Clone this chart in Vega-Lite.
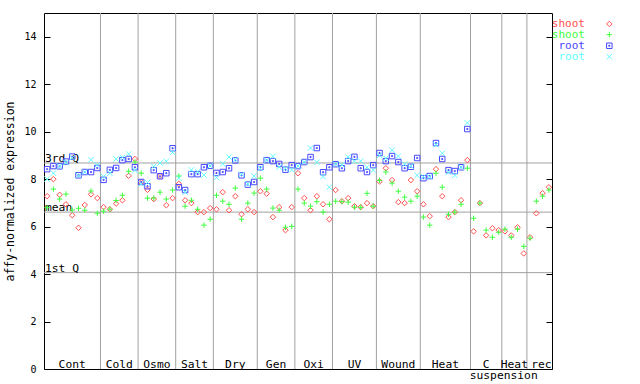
{
  "$schema": "https://vega.github.io/schema/vega-lite/v6.json",
  "autosize": "none",
  "width": 508,
  "height": 356,
  "padding": {"left": 44, "top": 13, "right": 88, "bottom": 15},
  "background": "white",
  "config": {
    "font": "DejaVu Sans Mono",
    "view": {"stroke": "black", "strokeWidth": 1},
    "axis": {"grid": false, "labelFont": "DejaVu Sans Mono", "titleFont": "DejaVu Sans Mono"},
    "text": {"font": "DejaVu Sans Mono", "fontSize": 11.3, "color": "black"}
  },
  "datasets": {
    "expr": [
      {"s":0,"r":7.28,"g":6.8,"b":8.42,"c":8.0},
      {"s":1,"r":8.0,"g":7.58,"b":8.55,"c":8.25},
      {"s":2,"r":7.34,"g":7.16,"b":8.54,"c":8.55},
      {"s":3,"r":6.94,"g":7.37,"b":8.74,"c":8.7},
      {"s":4,"r":6.48,"g":6.7,"b":8.95,"c":8.9},
      {"s":5,"r":5.95,"g":6.77,"b":8.16,"c":8.15},
      {"s":6,"r":6.91,"g":6.69,"b":8.3,"c":8.3},
      {"s":7,"r":7.36,"g":7.5,"b":8.3,"c":8.82},
      {"s":8,"r":7.2,"g":6.56,"b":8.47,"c":8.6},
      {"s":9,"r":6.82,"g":6.65,"b":7.97,"c":8.11},
      {"s":10,"r":6.73,"g":6.73,"b":8.39,"c":8.25},
      {"s":11,"r":6.97,"g":7.1,"b":8.47,"c":8.85},
      {"s":12,"r":7.11,"g":7.32,"b":8.8,"c":8.92},
      {"s":13,"r":8.14,"g":8.33,"b":8.85,"c":9.06},
      {"s":14,"r":8.85,"g":8.72,"b":8.5,"c":8.37},
      {"s":15,"r":7.87,"g":8.25,"b":7.88,"c":7.8},
      {"s":16,"r":7.55,"g":7.2,"b":7.7,"c":7.86},
      {"s":17,"r":7.16,"g":7.2,"b":8.38,"c":8.54},
      {"s":18,"r":8.13,"g":7.45,"b":8.12,"c":8.68},
      {"s":19,"r":6.9,"g":7.16,"b":8.25,"c":8.75},
      {"s":20,"r":7.2,"g":7.54,"b":9.3,"c":9.13},
      {"s":21,"r":7.8,"g":8.13,"b":7.66,"c":8.04},
      {"s":22,"r":7.11,"g":6.86,"b":7.54,"c":7.45},
      {"s":23,"r":6.99,"g":7.11,"b":8.21,"c":8.39},
      {"s":24,"r":6.61,"g":6.73,"b":8.21,"c":8.31},
      {"s":25,"r":6.61,"g":6.06,"b":8.5,"c":8.17},
      {"s":26,"r":6.78,"g":6.31,"b":8.56,"c":8.56},
      {"s":27,"r":6.73,"g":7.32,"b":8.26,"c":8.07},
      {"s":28,"r":7.45,"g":7.07,"b":8.3,"c":8.65},
      {"s":29,"r":6.69,"g":6.94,"b":8.46,"c":8.93},
      {"s":30,"r":7.28,"g":7.62,"b":8.79,"c":8.82},
      {"s":31,"r":6.52,"g":6.31,"b":8.16,"c":8.2},
      {"s":32,"r":6.73,"g":6.99,"b":7.77,"c":7.8},
      {"s":33,"r":6.61,"g":7.41,"b":7.88,"c":8.13},
      {"s":34,"r":7.49,"g":8.04,"b":8.5,"c":8.45},
      {"s":35,"r":7.39,"g":7.58,"b":8.8,"c":8.8},
      {"s":36,"r":6.4,"g":6.78,"b":8.76,"c":8.96},
      {"s":37,"r":6.82,"g":6.69,"b":8.64,"c":8.51},
      {"s":38,"r":5.85,"g":5.97,"b":8.4,"c":8.45},
      {"s":39,"r":6.82,"g":6.01,"b":8.59,"c":8.39},
      {"s":40,"r":8.25,"g":7.58,"b":8.55,"c":8.55},
      {"s":41,"r":7.2,"g":6.99,"b":8.72,"c":8.72},
      {"s":42,"r":6.69,"g":6.86,"b":8.93,"c":9.31},
      {"s":43,"r":7.28,"g":7.05,"b":9.31,"c":8.71},
      {"s":44,"r":6.94,"g":6.61,"b":8.29,"c":8.11},
      {"s":45,"r":6.31,"g":6.94,"b":8.5,"c":7.66},
      {"s":46,"r":7.54,"g":7.07,"b":8.63,"c":8.63},
      {"s":47,"r":7.07,"g":7.05,"b":8.46,"c":8.6},
      {"s":48,"r":7.2,"g":7.03,"b":8.76,"c":8.93},
      {"s":49,"r":6.86,"g":6.82,"b":8.94,"c":8.76},
      {"s":50,"r":6.82,"g":6.81,"b":8.46,"c":8.76},
      {"s":51,"r":6.99,"g":7.4,"b":8.3,"c":8.5},
      {"s":52,"r":6.86,"g":6.86,"b":8.59,"c":8.38},
      {"s":53,"r":7.9,"g":7.95,"b":9.1,"c":9.0},
      {"s":54,"r":8.46,"g":8.3,"b":8.76,"c":8.88},
      {"s":55,"r":7.96,"g":7.83,"b":8.97,"c":9.22},
      {"s":56,"r":7.03,"g":7.49,"b":8.72,"c":8.97},
      {"s":57,"r":6.99,"g":7.24,"b":8.46,"c":8.63},
      {"s":58,"r":7.96,"g":7.07,"b":8.52,"c":8.55},
      {"s":59,"r":7.49,"g":7.28,"b":8.89,"c":8.16},
      {"s":60,"r":6.94,"g":6.4,"b":8.04,"c":8.1},
      {"s":61,"r":6.44,"g":6.06,"b":8.13,"c":8.1},
      {"s":62,"r":8.42,"g":8.25,"b":9.52,"c":9.45},
      {"s":63,"r":7.28,"g":7.66,"b":8.85,"c":9.09},
      {"s":64,"r":6.4,"g":6.52,"b":8.38,"c":8.29},
      {"s":65,"r":6.61,"g":6.61,"b":8.34,"c":8.16},
      {"s":66,"r":7.11,"g":6.94,"b":8.5,"c":8.5},
      {"s":67,"r":8.8,"g":8.46,"b":10.11,"c":10.37},
      {"s":68,"r":5.8,"g":6.35},
      {"s":69,"r":6.99,"g":6.99},
      {"s":70,"r":5.63,"g":5.85},
      {"s":71,"r":5.93,"g":5.55},
      {"s":72,"r":5.85,"g":5.76},
      {"s":73,"r":5.8,"g":5.89},
      {"s":74,"r":5.63,"g":5.55},
      {"s":75,"r":5.97,"g":5.89},
      {"s":76,"r":4.87,"g":5.17},
      {"s":77,"r":5.55,"g":5.51},
      {"s":78,"r":6.56,"g":7.07},
      {"s":79,"r":7.41,"g":7.28},
      {"s":80,"r":7.66,"g":7.54}
    ],
    "groups": [
      {"label":"Cont","mid":4,"end":8.5},
      {"label":"Cold","mid":11.5,"end":14.5},
      {"label":"Osmo","mid":17.5,"end":20.5},
      {"label":"Salt","mid":23.5,"end":26.5},
      {"label":"Dry","mid":30,"end":33.5},
      {"label":"Gen","mid":36.5,"end":39.5},
      {"label":"Oxi","mid":42.5,"end":45.5},
      {"label":"UV","mid":49,"end":52.5},
      {"label":"Wound","mid":56,"end":59.5},
      {"label":"Heat","mid":63.5,"end":67.5},
      {"label":"C","mid":70,"end":72.5},
      {"label":"Heat","mid":74.5,"end":76.5},
      {"label":"rec","mid":78.8}
    ],
    "stats": [
      {"label":"3rd Q","v":8.68},
      {"label":"mean","v":6.61},
      {"label":"1st Q","v":4.06}
    ],
    "sub": [
      {"label":"suspension","mid":72.8}
    ]
  },
  "resolve": {"axis": {"y": "independent"}},
  "layer": [
    {
      "data": {"name": "groups"},
      "transform": [{"filter": "isValid(datum.end)"}],
      "mark": {"type": "rule", "color": "#a0a0a0", "strokeWidth": 1},
      "encoding": {
        "x": {"field": "end", "type": "quantitative", "scale": {"domain": [-0.5, 80.5], "nice": false, "zero": false}, "axis": null}
      }
    },
    {
      "data": {"name": "stats"},
      "mark": {"type": "rule", "color": "#a0a0a0", "strokeWidth": 1},
      "encoding": {
        "y": {"field": "v", "type": "quantitative", "scale": {"domain": [0, 15], "nice": false, "zero": true},
              "axis": {"orient": "right", "title": null, "labels": false, "domain": false, "values": [0,2,4,6,8,10,12,14], "tickSize": -6, "tickColor": "black"}}
      }
    },
    {
      "data": {"name": "stats"},
      "mark": {"type": "text", "align": "left", "baseline": "alphabetic", "dx": 1, "dy": -1},
      "encoding": {
        "x": {"datum": -0.5, "type": "quantitative", "axis": null},
        "y": {"field": "v", "type": "quantitative", "axis": null},
        "text": {"field": "label"}
      }
    },
    {
      "data": {"name": "groups"},
      "mark": {"type": "text", "align": "center", "baseline": "alphabetic", "dy": -1},
      "encoding": {
        "x": {"field": "mid", "type": "quantitative", "axis": null},
        "y": {"datum": 0, "type": "quantitative", "axis": null},
        "text": {"field": "label"}
      }
    },
    {
      "data": {"name": "sub"},
      "mark": {"type": "text", "align": "center", "baseline": "alphabetic", "dy": 10},
      "encoding": {
        "x": {"field": "mid", "type": "quantitative", "axis": null},
        "y": {"datum": 0, "type": "quantitative", "axis": null},
        "text": {"field": "label"}
      }
    },
    {
      "data": {"name": "expr"},
      "transform": [
        {"fold": ["r", "g", "b", "c"], "as": ["series", "v"]},
        {"filter": "isValid(datum.v)"}
      ],
      "mark": {"type": "point", "filled": false, "strokeWidth": 1, "opacity": 1},
      "encoding": {
        "x": {"field": "s", "type": "quantitative", "axis": null},
        "y": {"field": "v", "type": "quantitative",
              "axis": {"orient": "left", "title": "affy-normalized expression", "titleFontSize": 11.5, "titleFontWeight": "normal", "titleColor": "black", "titlePadding": 8,
                       "values": [0,2,4,6,8,10,12,14], "labelFontSize": 10, "labelColor": "black", "domain": false, "tickSize": -6, "tickColor": "black", "labelPadding": 14}},
        "color": {"field": "series", "type": "nominal",
                  "scale": {"domain": ["r", "g", "b", "c"], "range": ["#ff5050", "#40ff40", "#4848ff", "#60ffff"]},
                  "legend": null},
        "shape": {"field": "series", "type": "nominal",
                  "scale": {"domain": ["r", "g", "b", "c"],
                            "range": ["diamond", "M-1,0H1M0,-1V1", "M-1,-1H1V1H-1ZM-0.2,-0.2H0.2V0.2H-0.2Z", "M-1,-1L1,1M-1,1L1,-1"]},
                  "legend": null},
        "size": {"value": 30}
      }
    },
    {
      "data": {"values": [{"label": "shoot", "series": "r"}]},
      "encoding": {"y": {"datum": 14.54, "type": "quantitative", "axis": null},
                   "color": {"field": "series", "type": "nominal", "legend": null}},
      "layer": [
        {"mark": {"type": "text", "align": "right", "baseline": "middle", "fontSize": 11},
         "encoding": {"x": {"datum": 85.76, "type": "quantitative", "axis": null}, "text": {"field": "label"}}},
        {"mark": {"type": "point", "filled": false, "size": 30, "strokeWidth": 1, "opacity": 1},
         "encoding": {"x": {"datum": 89.64, "type": "quantitative", "axis": null}, "shape": {"field": "series", "type": "nominal", "legend": null}}}
      ]
    },
    {
      "data": {"values": [{"label": "shoot", "series": "g"}]},
      "encoding": {"y": {"datum": 14.09, "type": "quantitative", "axis": null},
                   "color": {"field": "series", "type": "nominal", "legend": null}},
      "layer": [
        {"mark": {"type": "text", "align": "right", "baseline": "middle", "fontSize": 11},
         "encoding": {"x": {"datum": 85.76, "type": "quantitative", "axis": null}, "text": {"field": "label"}}},
        {"mark": {"type": "point", "filled": false, "size": 30, "strokeWidth": 1, "opacity": 1},
         "encoding": {"x": {"datum": 89.64, "type": "quantitative", "axis": null}, "shape": {"field": "series", "type": "nominal", "legend": null}}}
      ]
    },
    {
      "data": {"values": [{"label": "root", "series": "b"}]},
      "encoding": {"y": {"datum": 13.62, "type": "quantitative", "axis": null},
                   "color": {"field": "series", "type": "nominal", "legend": null}},
      "layer": [
        {"mark": {"type": "text", "align": "right", "baseline": "middle", "fontSize": 11},
         "encoding": {"x": {"datum": 85.76, "type": "quantitative", "axis": null}, "text": {"field": "label"}}},
        {"mark": {"type": "point", "filled": false, "size": 30, "strokeWidth": 1, "opacity": 1},
         "encoding": {"x": {"datum": 89.64, "type": "quantitative", "axis": null}, "shape": {"field": "series", "type": "nominal", "legend": null}}}
      ]
    },
    {
      "data": {"values": [{"label": "root", "series": "c"}]},
      "encoding": {"y": {"datum": 13.16, "type": "quantitative", "axis": null},
                   "color": {"field": "series", "type": "nominal", "legend": null}},
      "layer": [
        {"mark": {"type": "text", "align": "right", "baseline": "middle", "fontSize": 11},
         "encoding": {"x": {"datum": 85.76, "type": "quantitative", "axis": null}, "text": {"field": "label"}}},
        {"mark": {"type": "point", "filled": false, "size": 30, "strokeWidth": 1, "opacity": 1},
         "encoding": {"x": {"datum": 89.64, "type": "quantitative", "axis": null}, "shape": {"field": "series", "type": "nominal", "legend": null}}}
      ]
    }
  ]
}
